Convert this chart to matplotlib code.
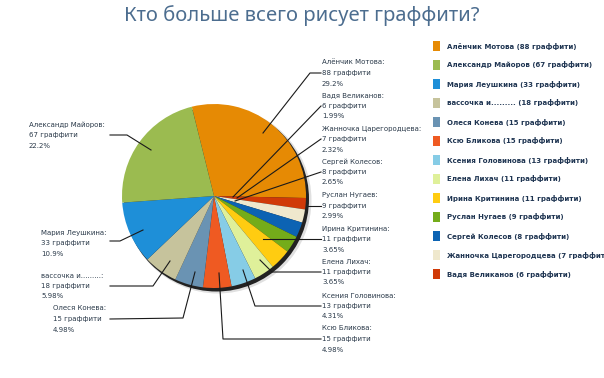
import math
import matplotlib
matplotlib.use("Agg")
import matplotlib.pyplot as plt
from matplotlib.patches import Circle, Rectangle

names = ["Алёнчик Мотова", "Вадя Великанов", "Жанночка Царегородцева", "Сергей Колесов",
         "Руслан Нугаев", "Ирина Критинина", "Елена Лихач", "Ксения Головинова",
         "Ксю Бликова", "Олеся Конева", "вассочка и.........", "Мария Леушкина",
         "Александр Майоров"]
counts = [88, 6, 7, 8, 9, 11, 11, 13, 15, 15, 18, 33, 67]
colors = ["#e68a04", "#d03a08", "#efe8cd", "#0c63b3", "#74ac1a", "#ffcc11", "#dff09a",
          "#86cce6", "#ef5a22", "#6a93b3", "#c6c39c", "#1e8fd8", "#9bbb50"]

# legend order (by count)
legend_order = ["Алёнчик Мотова", "Александр Майоров", "Мария Леушкина", "вассочка и.........",
                "Олеся Конева", "Ксю Бликова", "Ксения Головинова", "Елена Лихач",
                "Ирина Критинина", "Руслан Нугаев", "Сергей Колесов",
                "Жанночка Царегородцева", "Вадя Великанов"]

W, H = 604, 378
def Y(y):
    return H - y

def pct(v, total):
    p = v / total * 100
    d = 2 - int(math.floor(math.log10(p)))
    t = math.floor(p * 10 ** d + 1e-9) / 10 ** d
    return f"{t:.{d}f}%"

total = sum(counts)

fig = plt.figure(figsize=(6.04, 3.78), dpi=100)
ax = fig.add_axes([0, 0, 1, 1])

cx, cy, r = 214, 196, 92
# shadow
ax.add_patch(Circle((cx + 4, Y(cy + 4)), r + 1.5, color="black", alpha=0.12, zorder=1, lw=0))
ax.add_patch(Circle((cx + 2.5, Y(cy + 3)), r + 0.5, color="black", alpha=0.85, zorder=1, lw=0))

ax.pie(counts, colors=colors, startangle=104, counterclock=False,
       center=(cx, Y(cy)), radius=r, wedgeprops=dict(linewidth=0, zorder=2),
       frame=True)

txt_col = "#2b3a4a"
fs = 5.0

# leader lines (pixel coords)
leaders = {
    "Алёнчик Мотова": [(321, 73), (310, 73), (263, 133)],
    "Вадя Великанов": [(321, 106), (233, 197)],
    "Жанночка Царегородцева": [(321, 139), (237, 198)],
    "Сергей Колесов": [(321, 172), (235, 201)],
    "Руслан Нугаев": [(321, 206), (308, 206)],
    "Ирина Критинина": [(321, 239), (263, 239)],
    "Елена Лихач": [(321, 272), (272, 272), (260, 260)],
    "Ксения Головинова": [(321, 306), (255, 306), (243, 270)],
    "Ксю Бликова": [(321, 339), (223, 339), (219, 273)],
    "Александр Майоров": [(110, 135), (127, 135), (151, 150)],
    "Мария Леушкина": [(110, 241), (120, 241), (143, 230)],
    "вассочка и.........": [(110, 286), (153, 286), (170, 261)],
    "Олеся Конева": [(110, 319), (183, 318), (195, 272)],
}
# label text anchors: (x of left edge, y of middle line)
label_pos = {
    "Алёнчик Мотова": (322, 73),
    "Вадя Великанов": (322, 106),
    "Жанночка Царегородцева": (322, 139),
    "Сергей Колесов": (322, 172),
    "Руслан Нугаев": (322, 206),
    "Ирина Критинина": (322, 239),
    "Елена Лихач": (322, 272),
    "Ксения Головинова": (322, 306),
    "Ксю Бликова": (322, 339),
    "Александр Майоров": (29, 135),
    "Мария Леушкина": (41, 243),
    "вассочка и.........": (41, 286),
    "Олеся Конева": (53, 319),
}

for n, v in zip(names, counts):
    pts = leaders[n]
    ax.plot([p[0] for p in pts], [Y(p[1]) for p in pts], color="#1a1a1a", lw=0.8, zorder=3)
    lx, ly = label_pos[n]
    ax.text(lx, Y(ly - 10.5), n + ":", fontsize=fs, color=txt_col, va="center", ha="left")
    ax.text(lx, Y(ly), f"{v} граффити", fontsize=fs, color=txt_col, va="center", ha="left")
    ax.text(lx, Y(ly + 10.5), pct(v, total), fontsize=fs, color=txt_col, va="center", ha="left")

# legend
for i, n in enumerate(legend_order):
    k = names.index(n)
    yy = 46 + i * 19
    ax.add_patch(Rectangle((433, Y(yy + 5)), 7, 10, color=colors[k], lw=0, zorder=3))
    ax.text(447, Y(yy), f"{n} ({counts[k]} граффити)", fontsize=5.0, fontweight="bold",
            color="#1f3552", va="center", ha="left", clip_on=False)

fig.text(0.5, Y(16) / H, "Кто больше всего рисует граффити?", fontsize=14.5,
         color="#4c6d8f", ha="center", va="center", family="Noto Sans")

ax.set_xlim(0, W)
ax.set_ylim(0, H)
ax.set_aspect("auto")
ax.axis("off")

fig.savefig("out.png", dpi=100)
